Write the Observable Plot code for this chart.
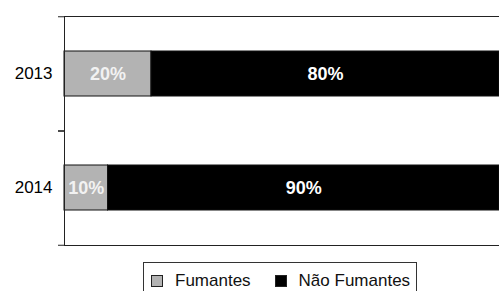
<!DOCTYPE html>
<html>
<head>
<meta charset="utf-8">
<script src="https://cdn.jsdelivr.net/npm/d3@7"></script>
<script src="https://cdn.jsdelivr.net/npm/@observablehq/plot@0.6"></script>
<style>
  body { margin: 0; background: #fff; font-family: "Liberation Sans", Arial, sans-serif; }
  #legend { display: inline-flex; align-items: center; margin-left: 143px; margin-top: 4px;
    border: 1px solid #333; border-bottom: none; padding: 8px 6px 6px 7px; font-size: 17px; color: #111; height: 20px; box-sizing: content-box; }
  .sw { width: 10px; height: 10px; border: 1px solid #222; display: inline-block; margin-right: 12px; }
  .item { display: inline-flex; align-items: center; }
</style>
</head>
<body>
<div id="chart"></div>
<div id="legend"></div>
<script>
const years = ["2013", "2014"];
const series = ["Fumantes", "Não Fumantes"];
const fumantes = [20, 10];
const naoFumantes = [80, 90];
const colors = ["#b3b3b3", "#000000"];

const data = [];
years.forEach((y, i) => {
  data.push({year: y, serie: series[0], value: fumantes[i]});
  data.push({year: y, serie: series[1], value: naoFumantes[i]});
});

const height = 258, marginTop = 16, marginBottom = 13;
const step = (height - marginTop - marginBottom) / years.length;

const chart = Plot.plot({
  width: 499,
  height,
  marginTop,
  marginBottom,
  marginLeft: 64,
  marginRight: 0,
  style: {fontFamily: "'Liberation Sans', Arial, sans-serif", fontSize: "17px", color: "#000", background: "#fff"},
  x: {domain: [0, 100], axis: null},
  y: {domain: years, paddingInner: 0.605, paddingOuter: 0.3025, label: null},
  color: {domain: series, range: colors},
  marks: [
    Plot.barX(data, Plot.stackX({x: "value", y: "year", fill: "serie", stroke: "#111", strokeWidth: 1})),
    Plot.text(data, Plot.stackX({x: "value", y: "year", text: d => d.value + "%", fill: d => d.serie === series[0] ? "#f2f2f2" : "#ffffff", fontWeight: "bold", fontSize: 18})),
    Plot.axisY({tickSize: 0, tickPadding: 12, fontSize: 17, fill: "#000"}),
    Plot.axisY({tickSize: 6, dy: -step / 2, tickFormat: () => "", stroke: "#222"}),
    Plot.axisY({tickSize: 6, dy: step / 2, tickFormat: () => "", stroke: "#222"}),
    Plot.ruleX([0], {stroke: "#222"}),
    Plot.frame({anchor: "top", stroke: "#222"}),
    Plot.frame({anchor: "bottom", stroke: "#222"})
  ]
});
document.getElementById("chart").appendChild(chart);

const legend = document.getElementById("legend");
series.forEach((s, i) => {
  const item = document.createElement("span");
  item.className = "item";
  if (i > 0) item.style.marginLeft = "24px";
  const sw = document.createElement("span");
  sw.className = "sw";
  sw.style.background = colors[i];
  item.appendChild(sw);
  item.appendChild(document.createTextNode(s));
  legend.appendChild(item);
});
</script>
</body>
</html>
